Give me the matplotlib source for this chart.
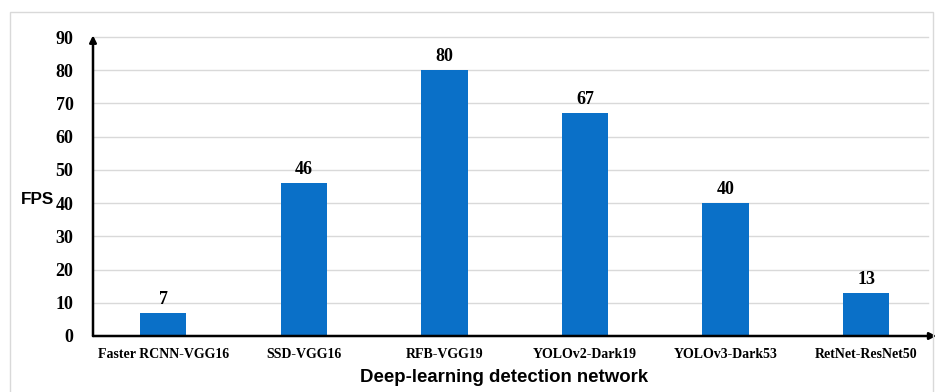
import matplotlib
matplotlib.use("Agg")
from matplotlib import pyplot as plt
from matplotlib.patches import Rectangle
import numpy as np

networks = ["Faster RCNN-VGG16", "SSD-VGG16", "RFB-VGG19",
            "YOLOv2-Dark19", "YOLOv3-Dark53", "RetNet-ResNet50"]
fps = [7, 46, 80, 67, 40, 13]
yticks = [0, 10, 20, 30, 40, 50, 60, 70, 80, 90]

serif = "Liberation Serif"
sans = "Liberation Sans"

fig = plt.figure(figsize=(9.38, 3.92), dpi=100)
# light frame around the whole chart
fig.patches.append(Rectangle((10 / 938, -0.05), 923 / 938, 1.05 - 12 / 392,
                             transform=fig.transFigure, fill=False,
                             edgecolor="#d9d9d9", linewidth=1.0))

ax = fig.add_axes([93 / 938, 56 / 392, 842 / 938, 299 / 392])
x = np.arange(len(networks))
ax.bar(x, fps, width=0.33, color="#0a70c8", zorder=3)

for xi, v in zip(x, fps):
    ax.text(xi, v + 1.5, str(v), ha="center", va="bottom",
            fontfamily=serif, fontweight="bold", fontsize=13)

ax.set_xlim(-0.5, 5.49)
ax.set_ylim(0, 90)
ax.set_yticks(yticks)
ax.set_yticklabels([str(t) for t in yticks], fontfamily=serif,
                   fontweight="bold", fontsize=13)
ax.set_xticks(x)
ax.set_xticklabels(networks, fontfamily=serif, fontweight="bold", fontsize=10)
ax.tick_params(length=0, pad=9)
ax.tick_params(axis="y", pad=14)

# gridlines stop a little short of the arrow head
for t in yticks[1:]:
    ax.plot([-0.5, 5.44], [t, t], color="#d9d9d9", linewidth=1.0, zorder=1,
            clip_on=False)

for s in ax.spines.values():
    s.set_visible(False)

# axes drawn as arrows
ax.annotate("", xy=(5.5, 0), xytext=(-0.5, 0), xycoords="data",
            arrowprops=dict(arrowstyle="-|>", color="black", lw=1.8,
                            mutation_scale=10, shrinkA=0, shrinkB=0),
            annotation_clip=False, zorder=5)
ax.annotate("", xy=(-0.5, 90.5), xytext=(-0.5, 0), xycoords="data",
            arrowprops=dict(arrowstyle="-|>", color="black", lw=1.8,
                            mutation_scale=10, shrinkA=0, shrinkB=0),
            annotation_clip=False, zorder=5)

fig.text(21 / 938, 1 - 199 / 392, "FPS", fontfamily=sans, fontweight="bold",
         fontsize=12.3, ha="left", va="center")
fig.text(504 / 938, 1 - 377 / 392, "Deep-learning detection network",
         fontfamily=sans, fontweight="bold", fontsize=13.4, ha="center",
         va="center")

fig.savefig("out.png", dpi=100)
